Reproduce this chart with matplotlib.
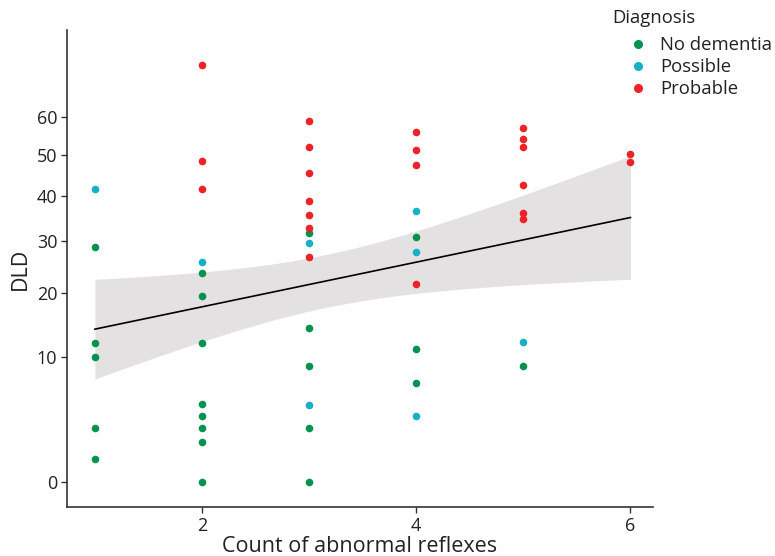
import numpy as np
import matplotlib
matplotlib.use("Agg")
import matplotlib.pyplot as plt
from matplotlib.lines import Line2D

plt.rcParams['font.family'] = ['Open Sans', 'DejaVu Sans']

# data: (count of abnormal reflexes, DLD, diagnosis)
reflex_count = [1, 1, 1, 1, 1, 1,
                2, 2, 2, 2, 2, 2, 2, 2, 2, 2, 2, 2,
                3, 3, 3, 3, 3, 3, 3, 3, 3, 3, 3, 3, 3, 3,
                4, 4, 4, 4, 4, 4, 4, 4, 4, 4,
                5, 5, 5, 5, 5, 5, 5, 5,
                6, 6]
dld = [41.5, 28.7, 12, 10, 2.5, 0.6,
       75, 48.4, 41.5, 25.7, 23.6, 19.5, 12, 4.6, 3.5, 2.5, 1.5, 0,
       58.8, 52.1, 45.4, 38.7, 35.7, 32.7, 31.7, 29.6, 26.7, 14.2, 8.9, 4.5, 2.5, 0,
       56, 51.2, 47.4, 36.6, 30.8, 27.7, 21.6, 11.1, 6.8, 3.5,
       56.9, 54.1, 52, 42.5, 36, 34.7, 12.1, 8.9,
       50.3, 48.3]
diagnosis = ['Possible', 'No dementia', 'No dementia', 'No dementia', 'No dementia', 'No dementia',
             'Probable', 'Probable', 'Probable', 'Possible', 'No dementia', 'No dementia',
             'No dementia', 'No dementia', 'No dementia', 'No dementia', 'No dementia', 'No dementia',
             'Probable', 'Probable', 'Probable', 'Probable', 'Probable', 'Probable', 'No dementia',
             'Possible', 'Probable', 'No dementia', 'No dementia', 'Possible', 'No dementia', 'No dementia',
             'Probable', 'Probable', 'Probable', 'Possible', 'No dementia', 'Possible', 'Probable',
             'No dementia', 'No dementia', 'Possible',
             'Probable', 'Probable', 'Probable', 'Probable', 'Probable', 'Probable', 'Possible', 'No dementia',
             'Probable', 'Probable']

groups = ['No dementia', 'Possible', 'Probable']
group_colors = ['#04924f', '#16b0c9', '#ec2227']
y_ticks = [0, 10, 20, 30, 40, 50, 60]
x_ticks = [2, 4, 6]

# fitted model as shown in the figure (on the DLD^0.6 scale)
fit_intercept = 4.168
fit_slope = 0.714
fit_ci_scale = 6.1   # t-quantile * residual sd

POW = 0.6


def fwd(v):
    v = np.asarray(v, dtype=float)
    return np.sign(v) * np.abs(v) ** POW


def inv(t):
    t = np.asarray(t, dtype=float)
    return np.sign(t) * np.abs(t) ** (1 / POW)


x = np.array(reflex_count, dtype=float)
y = np.array(dld, dtype=float)
diag = np.array(diagnosis)

fig = plt.figure(figsize=(7.75, 5.56), dpi=100)
ax = fig.add_axes([0.0865, 0.088, 0.756, 0.858])
ax.set_yscale('function', functions=(fwd, inv))

# regression line with confidence band
n = len(x)
sxx = np.sum((x - x.mean()) ** 2)
xg = np.linspace(x.min(), x.max(), 200)
half = fit_ci_scale * np.sqrt(1 / n + (xg - x.mean()) ** 2 / sxx)
fit = fit_intercept + fit_slope * xg
ax.fill_between(xg, inv(fit - half), inv(fit + half), color='#e4e1e2', lw=0, zorder=1)
ax.plot(xg, inv(fit), color='black', lw=1.2, zorder=2)

for g, c in zip(groups, group_colors):
    m = diag == g
    ax.scatter(x[m], y[m], s=30, color=c, lw=0, zorder=3)

ax.set_xlim(0.74, 6.21)
ax.set_ylim(-0.7, 85.7)
ax.set_xticks(x_ticks)
ax.set_yticks(y_ticks)
ax.tick_params(labelsize=13, colors='#333333', length=4, width=1, labelcolor='#222222', pad=3)
for side in ['top', 'right']:
    ax.spines[side].set_visible(False)
for side in ['left', 'bottom']:
    ax.spines[side].set_color('#333333')
    ax.spines[side].set_linewidth(1.2)
ax.set_xlabel('Count of abnormal reflexes', fontsize=15.5, color='#222222', labelpad=1)
ax.set_ylabel('DLD', fontsize=15.5, color='#222222', labelpad=4)

# legend: title as separate text, entries below
fig.text(0.7897, 0.9676, 'Diagnosis', fontsize=13.3, color='#222222', ha='left', va='center')
handles = [Line2D([], [], marker='o', ls='', color=c, markersize=5.5) for c in group_colors]
leg = fig.legend(handles, groups, loc='upper left',
                 bbox_to_anchor=(0.8113, 0.935), frameon=False, fontsize=13.3,
                 borderpad=0, borderaxespad=0, handletextpad=0.69,
                 labelspacing=0.22, handlelength=1.0)
for t in leg.get_texts():
    t.set_color('#222222')

fig.savefig('out.png', dpi=100)
